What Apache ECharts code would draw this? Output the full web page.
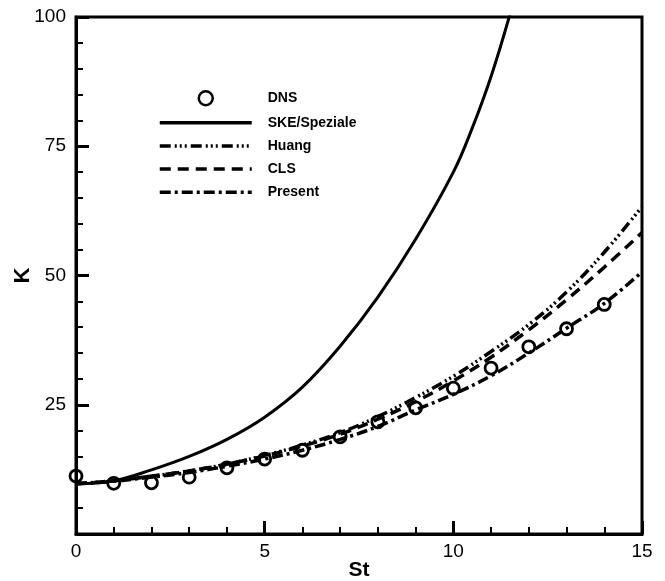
<!DOCTYPE html>
<html><head><meta charset="utf-8">
<script src="https://cdn.jsdelivr.net/npm/echarts@6/dist/echarts.min.js"></script>
<style>html,body{margin:0;padding:0;background:#fff}#c{width:665px;height:581px}</style>
</head><body><div id="c"></div>
<script>
const dnsSt = [0,1,2,3,4,5,6,7,8,9,10,11,12,13,14];
const dnsK  = [11.2,9.8,9.9,11.0,12.8,14.5,16.2,18.8,21.7,24.4,28.2,32.1,36.2,39.7,44.4];
const skeSt = [0,1,2,3,4,5,6,7,8,9,10,10.5,11,11.5];
const skeK  = [9.7,10.3,12.4,15.0,18.3,22.6,28.4,36.3,45.8,57.0,70.0,78.5,88.5,100.5];
const modSt = [0,1,2,3,4,5,6,7,8,9,10,11,12,13,14,15];
const huangK   = [9.7,10.3,11.2,12.2,13.5,15.2,17.2,19.6,22.7,26.4,30.5,35.3,40.5,46.8,54.5,63.3];
const clsK     = [9.7,10.3,11.2,12.2,13.5,15.1,17.0,19.3,22.2,25.6,29.6,34.2,39.5,45.3,51.6,58.3];
const presentK = [9.7,10.2,11.0,11.9,13.1,14.5,16.2,18.3,20.8,24.0,27.0,30.6,35.0,39.8,44.6,50.7];
const xTicks = [0,5,10,15];
const yTicks = [25,50,75,100];

const pairs = (xs, ys) => xs.map((x,i)=>[x, ys[i]]);
const chart = echarts.init(document.getElementById('c'));
const lineSeries = (name, data, type, width) => ({
  name, type:'line', data, symbol:'none', smooth:0.4, clip:true,
  itemStyle:{color:'#000'},
  lineStyle:{color:'#000', width, type}, z:2
});
const lineLegend = name => ({name, itemStyle:{opacity:0}, lineStyle:{width:3.5}});
chart.setOption({
  animation:false,
  backgroundColor:'#fff',
  textStyle:{fontFamily:'Liberation Sans, Arial, sans-serif'},
  grid:{left:76, right:23, top:17, bottom:47, outerBoundsMode:'none', containLabel:false,
        show:true, borderColor:'#000', borderWidth:3, backgroundColor:'transparent'},
  legend:{
    orient:'vertical', left:158, top:90, padding:0, itemWidth:92, itemHeight:14, itemGap:9.2,
    textStyle:{fontSize:14, fontWeight:'bold', color:'#000', padding:[0,0,0,11],
      fontFamily:'Liberation Sans, Arial, sans-serif'},
    data:[
      {name:'DNS', icon:'circle', itemStyle:{color:'#fff', borderColor:'#000', borderWidth:2.5, opacity:1}},
      lineLegend('SKE/Speziale'), lineLegend('Huang'), lineLegend('CLS'), lineLegend('Present')
    ]
  },
  xAxis:{
    type:'value', min:0, max:15, interval:5,
    name:'St', nameLocation:'middle', nameGap:26, nameMoveOverlap:false,
    nameTextStyle:{fontSize:21, fontWeight:'bold', color:'#000'},
    axisLine:{lineStyle:{color:'#000', width:3}},
    axisTick:{inside:true, length:13, lineStyle:{width:3, color:'#000'}},
    minorTick:{show:true, splitNumber:5, length:7, lineStyle:{width:2, color:'#000'}},
    splitLine:{show:false},
    axisLabel:{fontSize:19, color:'#000', margin:8,
      formatter:v=> xTicks.includes(v) ? String(v) : ''}
  },
  yAxis:{
    type:'value', min:0, max:100, interval:25,
    name:'K', nameLocation:'middle', nameGap:42, nameRotate:90, nameMoveOverlap:false,
    nameTextStyle:{fontSize:22, fontWeight:'bold', color:'#000'},
    axisLine:{lineStyle:{color:'#000', width:3}},
    axisTick:{inside:true, length:13, lineStyle:{width:3, color:'#000'}},
    minorTick:{show:true, splitNumber:5, length:7, lineStyle:{width:2, color:'#000'}},
    splitLine:{show:false},
    axisLabel:{fontSize:19, color:'#000', margin:10,
      formatter:v=> yTicks.includes(v) ? String(v) : ''}
  },
  series:[
    {name:'DNS', type:'scatter', data:pairs(dnsSt,dnsK), symbol:'circle', symbolSize:12,
     itemStyle:{color:'rgba(255,255,255,0)', borderColor:'#000', borderWidth:2.8, opacity:1}, z:5, clip:false},
    lineSeries('SKE/Speziale', pairs(skeSt,skeK), 'solid', 3),
    lineSeries('Huang', pairs(modSt,huangK), [11,4,2,3,2,3,2,4], 3.5),
    lineSeries('CLS', pairs(modSt,clsK), [11,7], 3.5),
    lineSeries('Present', pairs(modSt,presentK), [11,4,3,4], 3.5)
  ]
});
</script></body></html>
